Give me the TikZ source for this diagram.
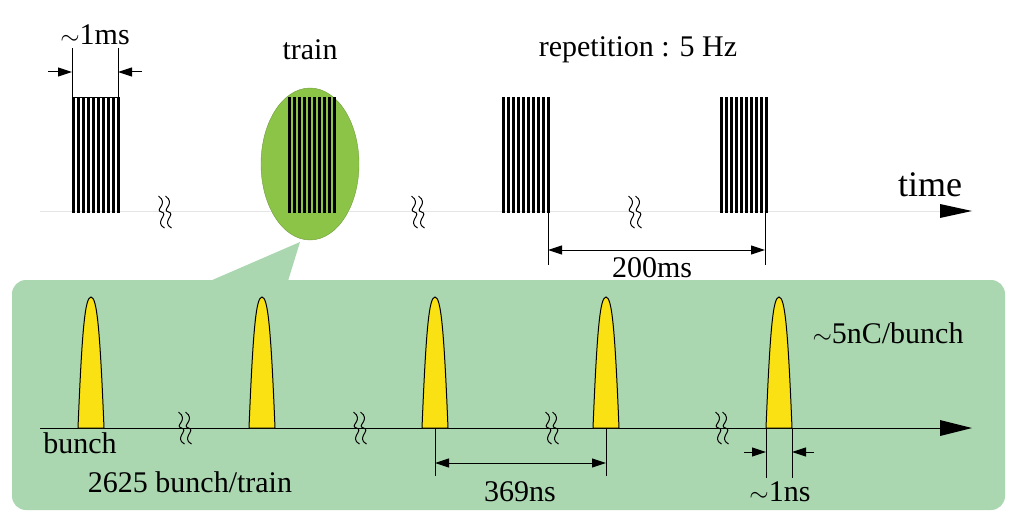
\documentclass[tikz,border=0pt]{standalone}
\usepackage{fontspec}
\setmainfont{Liberation Serif}
\usetikzlibrary{arrows.meta,shapes.geometric}
\definecolor{ellg}{RGB}{140,196,72}
\definecolor{boxg}{RGB}{170,214,176}
\definecolor{pulsey}{RGB}{250,225,20}
\tikzset{
  brk/.pic={\foreach \d in {-3.5,3.5}{\draw[line width=1pt] (\d-3,-16) .. controls (\d+8,-8) and (\d-8,-2) .. (\d,0) .. controls (\d+8,2) and (\d-8,10) .. (\d+3,16);}},
  tip/.style={Triangle[length=14pt,width=9pt]},
  dimarrow/.style={-{Triangle[length=14pt,width=9pt]},line width=1pt},
  dimline/.style={line width=1pt},
  lbl/.style={font=\fontsize{30}{32}\selectfont, inner sep=0pt},
}
\begin{document}
\begin{tikzpicture}[x=1pt,y=-1pt]
\useasboundingbox (0,0) rectangle (1023,527);
% callout
\fill[boxg,rounded corners=14pt] (12,280) rectangle (1005,510);
\fill[boxg] (210,281) -- (300,242) -- (288,281) -- cycle;
% top axis
\draw[gray!20,line width=1pt] (40,211) -- (945,211);
\fill (940,204) -- (972,211) -- (940,218) -- cycle;
\node[lbl,font=\fontsize{36}{38}\selectfont] (time) at (930,185) {time};
% ellipse
\node[ellipse,draw=ellg!80!black,fill=ellg,minimum width=98pt,minimum height=152pt,inner sep=0pt] (ell) at (310,164) {};
% trains
\foreach \x/\n in {72/a,288/b,502/c,720/d}{
  \foreach \i in {0,...,9}{\fill (\x+\i*4.95,97) rectangle (\x+\i*4.95+3.3,213);}
}
% ~1ms
\draw[dimline] (72,97) -- (72,48) (118,97) -- (118,48) (72,97) -- (118,97);
\coordinate (m1a) at (72,72); \coordinate (m2a) at (118,72);
\draw[dimarrow] (48,72) -- (m1a);
\draw[dimarrow] (142,72) -- (m2a);
\node[lbl] (ms) at (95,35) {$\sim$1ms};
\node[lbl] (tr) at (310,50) {train};
\node[lbl] (rep) at (638,50) {repetition : 5 Hz};
% 200ms
\draw[dimline] (548,212) -- (548,265) (765,212) -- (765,265);
\coordinate (r1) at (548,250); \coordinate (r2) at (765,250);
\draw[dimarrow,{Triangle[length=14pt,width=9pt]}-{Triangle[length=14pt,width=9pt]}] (r1) -- (r2);
\node[lbl] (ms200) at (652,268) {200ms};
% breaks top
\foreach \x in {165,418,635}{\pic at (\x,212) {brk};}
% bottom axis
\draw[line width=1pt] (40,428) -- (945,428);
\fill (940,420) -- (972,428) -- (940,436) -- cycle;
% pulses
\foreach \x in {91,262,435,606,779}{
  \draw[fill=pulsey,line width=1pt] (\x-13,428) .. controls (\x-9,330) and (\x-6,297) .. (\x,297) .. controls (\x+6,297) and (\x+9,330) .. (\x+13,428) -- cycle;
}
\foreach \x in {185,360,552,722}{\pic at (\x,428) {brk};}
\node[lbl] (bunch) at (80,443) {bunch};
\node[lbl] (bt) at (190,482) {2625 bunch/train};
\node[lbl] (nc) at (888,333) {$\sim$5nC/bunch};
% 369ns
\draw[dimline] (435,428) -- (435,476) (606,428) -- (606,476);
\coordinate (n1) at (435,463); \coordinate (n2) at (606,463);
\draw[dimarrow,{Triangle[length=14pt,width=9pt]}-{Triangle[length=14pt,width=9pt]}] (n1) -- (n2);
\node[lbl] (ns) at (520,492) {369ns};
% 1ns
\draw[dimline] (766,428) -- (766,478) (792,428) -- (792,478);
\coordinate (p1) at (766,452); \coordinate (p2) at (792,452);
\draw[dimarrow] (744,452) -- (p1);
\draw[dimarrow] (814,452) -- (p2);
\node[lbl] (ns1) at (780,492) {$\sim$1ns};
\end{tikzpicture}
\end{document}
